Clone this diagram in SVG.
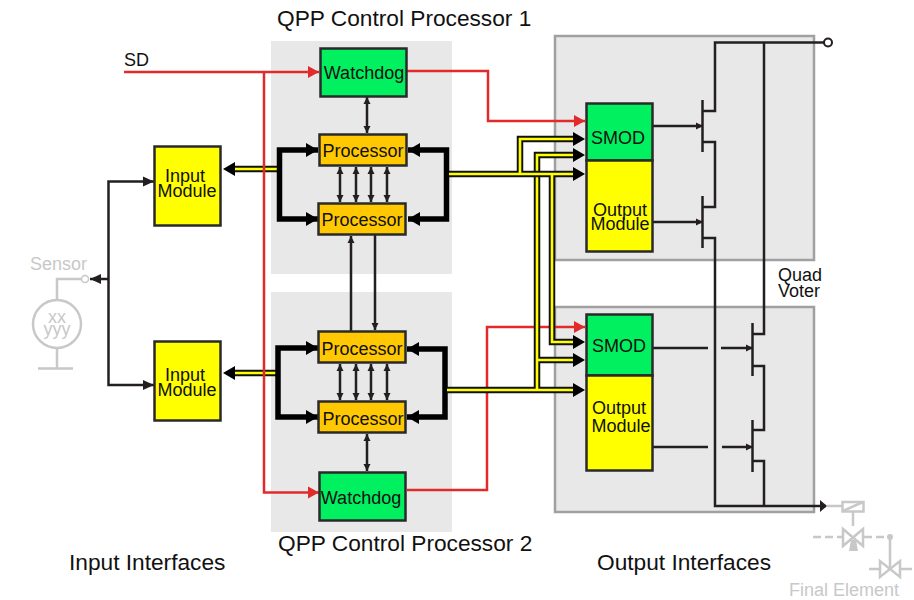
<svg xmlns="http://www.w3.org/2000/svg" width="914" height="600" viewBox="0 0 914 600">
<style>
text{font-family:"Liberation Sans",Arial,sans-serif;fill:#111;font-size:18px}
.t{font-size:22.7px}
.c{text-anchor:middle}
.g{fill:#c8c8c8}
.box{stroke:#2a2a2a;stroke-width:2.5}
.grn{fill:#00f060}.yel{fill:#ffff00}.org{fill:#ffc800}
.pan{fill:#e8e8e8}
.out{fill:#e8e8e8;stroke:#a0a0a0;stroke-width:2.5}
.w{fill:none;stroke:#231f20;stroke-width:2.5}
.wa{fill:none;stroke:#231f20;stroke-width:2.5;marker-end:url(#a)}
.ws{fill:none;stroke:#231f20;stroke-width:2.5;marker-end:url(#s)}
.d{fill:none;stroke:#231f20;stroke-width:2.5;marker-start:url(#s);marker-end:url(#s)}
.r{fill:none;stroke:#e22a2a;stroke-width:2.5;marker-end:url(#ra)}
.th{fill:none;stroke:#000;stroke-width:5.5;marker-start:url(#b);marker-end:url(#b)}
.bk{fill:none;stroke:#111;stroke-width:6.5}
.by{fill:none;stroke:#ffff00;stroke-width:2.6}
.gl{fill:none;stroke:#c8c8c8;stroke-width:2.5}
.hd{fill:#000}
</style>
<defs>
<marker id="a" markerUnits="userSpaceOnUse" markerWidth="12" markerHeight="12" refX="11" refY="6" orient="auto"><path d="M0 1L11 6L0 11Z" fill="#231f20"/></marker>
<marker id="s" markerUnits="userSpaceOnUse" markerWidth="8" markerHeight="8" refX="7" refY="4" orient="auto-start-reverse"><path d="M0 .5L7 4L0 7.5Z" fill="#231f20"/></marker>
<marker id="ra" markerUnits="userSpaceOnUse" markerWidth="12" markerHeight="14" refX="11" refY="7" orient="auto"><path d="M0 1L11 7L0 13Z" fill="#e22a2a"/></marker>
<marker id="b" markerUnits="userSpaceOnUse" markerWidth="13" markerHeight="16" refX="12" refY="8" orient="auto-start-reverse"><path d="M0 1L12 8L0 15Z" fill="#000"/></marker>
</defs>

<g id="panels">
<rect class="pan" x="271" y="41" width="181" height="233"/>
<rect class="pan" x="271" y="292" width="181" height="240"/>
<rect class="out" x="555" y="36" width="259" height="224"/>
<rect class="out" x="555" y="307" width="259" height="205"/>
</g>

<g id="connectors">
<path class="wa" d="M108.500 279V181.500H154"/>
<path class="wa" d="M108.500 279V385H154"/>
<path class="wa" d="M108.500 279H90"/>
<path class="gl" d="M82 279H57V300M57 348V368M38 368.500H73"/>
<path class="bk" d="M278 169H234"/>
<path class="by" d="M278 169H234"/>
<path class="hd" d="M223 169L235 162V176Z"/>
<path class="bk" d="M277 373H234"/>
<path class="by" d="M277 373H234"/>
<path class="hd" d="M223 373L235 366V380Z"/>
<path class="r" d="M124 72H319"/>
<path class="r" d="M264 72V492.500H319"/>
<path class="r" d="M407 71H488V121H585"/>
<path class="r" d="M407 490H487V327H585"/>
<path class="th" d="M318 150H279.500V219H318"/>
<path class="th" d="M408 150H446.500V219H408"/>
<path class="th" d="M318 348H278V417H318"/>
<path class="th" d="M407 349H445V417H407"/>
<path class="d" d="M340 167V202"/><path class="d" d="M356 167V202"/><path class="d" d="M371 167V202"/><path class="d" d="M387 167V202"/>
<path class="d" d="M340 364V400"/><path class="d" d="M356 364V400"/><path class="d" d="M371 364V400"/><path class="d" d="M387 364V400"/>
<path class="d" d="M367 97V133"/>
<path class="d" d="M367 434V471"/>
<path class="ws" d="M351 331V236"/>
<path class="ws" d="M375 235V330"/>
<g id="bus-lower">
<path class="bk" d="M447 390H575M537 390V155H575M537 360H575"/>
<path class="by" d="M447 390H575M537 390V155H575M537 360H575"/>
<path class="hd" d="M585 390L573 383V397ZM585 155L573 148V162ZM585 360L573 353V367Z"/>
</g>
<g id="bus-upper">
<path class="bk" d="M449 174H575M520 174V139H575M552 174V342H575"/>
<path class="by" d="M449 174H575M520 174V139H575M552 174V342H575"/>
<path class="hd" d="M585 174L573 167V181ZM585 139L573 132V146ZM585 342L573 335V349Z"/>
</g>
<path class="w" d="M824 42.500H715V111H702M764 42.500V334H752"/>
<path class="w" d="M702 142H715V207H702M702 238H715V506H826"/>
<path class="w" d="M752 366H764V430H752M752 461H764V506"/>
<path class="w" d="M702.500 100V152M702.500 196V248M752.500 323V376M752.500 420V472"/>
<path class="ws" d="M653 126H703"/>
<path class="ws" d="M653 222H703"/>
<path class="w" d="M653 348H708"/>
<path class="ws" d="M721 348H753"/>
<path class="w" d="M653 447H708"/>
<path class="ws" d="M722 447H753"/>
<path d="M820 500L827 506L820 512Z" fill="#231f20"/>
</g>

<g id="input-module-1"><rect class="box yel" x="154.500" y="146.500" width="66" height="79"/><text class="c" x="185" y="182">Input</text><text class="c" x="187" y="197">Module</text></g>
<g id="input-module-2"><rect class="box yel" x="154.500" y="341.500" width="66" height="79"/><text class="c" x="185" y="381">Input</text><text class="c" x="187" y="396">Module</text></g>
<g id="watchdog-1"><rect class="box grn" x="320.500" y="48.500" width="86" height="48"/><text class="c" x="364" y="79">Watchdog</text></g>
<g id="processor-1a"><rect class="box org" x="319.500" y="134.500" width="87" height="31"/><text class="c" x="363" y="157">Processor</text></g>
<g id="processor-1b"><rect class="box org" x="318.500" y="203.500" width="87" height="31"/><text class="c" x="362" y="226">Processor</text></g>
<g id="processor-2a"><rect class="box org" x="318.500" y="331.500" width="87" height="31"/><text class="c" x="362" y="355">Processor</text></g>
<g id="processor-2b"><rect class="box org" x="318.500" y="401.500" width="87" height="31"/><text class="c" x="363" y="425">Processor</text></g>
<g id="watchdog-2"><rect class="box grn" x="319.500" y="472.500" width="86" height="48"/><text class="c" x="361" y="504">Watchdog</text></g>
<g id="output-1"><rect class="box grn" x="586.500" y="103.500" width="66" height="57"/><rect class="box yel" x="586.500" y="160.500" width="66" height="91"/><text class="c" x="618" y="144">SMOD</text><text class="c" x="620" y="216">Output</text><text class="c" x="620" y="230">Module</text></g>
<g id="output-2"><rect class="box grn" x="586.500" y="314.500" width="66" height="61"/><rect class="box yel" x="586.500" y="375.500" width="66" height="95"/><text class="c" x="619" y="352">SMOD</text><text class="c" x="619" y="414">Output</text><text class="c" x="621" y="432">Module</text></g>

<g id="sensor">
<circle cx="85" cy="279" r="3.500" fill="#fff" stroke="#c8c8c8" stroke-width="1.500"/>
<circle cx="57" cy="324" r="24" fill="#fff" stroke="#c8c8c8" stroke-width="2.500"/>
<text class="g" x="30" y="270">Sensor</text>
<text class="g c" x="57" y="323">xx</text>
<text class="g c" x="57" y="335">yyy</text>
</g>
<g id="terminal"><circle cx="828" cy="42.500" r="4" fill="#fff" stroke="#231f20" stroke-width="2"/></g>
<g id="final-element">
<path class="gl" d="M827 506H842M853 511V526M890 537V569M869 569H880M900 569H912"/>
<rect x="842.500" y="502" width="21" height="9.500" fill="#fff" stroke="#c8c8c8" stroke-width="2.500"/>
<path class="gl" stroke-width="1.500" d="M843 511L863 502"/>
<path class="gl" stroke-dasharray="8 4" d="M813 537H842M864 537H888"/>
<path class="gl" d="M843 529V546L863 529V546ZM880 561V577L900 561V577Z"/>
<path d="M851 540H856L858 551H849Z" fill="#c8c8c8"/>
<circle cx="890" cy="537" r="3" fill="#c8c8c8"/>
<text class="g" x="789" y="596">Final Element</text>
</g>

<g id="labels">
<text class="t" x="277" y="26">QPP Control Processor 1</text>
<text class="t" x="278" y="551">QPP Control Processor 2</text>
<text class="t" x="69" y="570">Input Interfaces</text>
<text class="t" x="597" y="570">Output Interfaces</text>
<text x="124" y="66">SD</text>
<text x="778" y="281">Quad</text>
<text x="778" y="297">Voter</text>
</g>
</svg>
